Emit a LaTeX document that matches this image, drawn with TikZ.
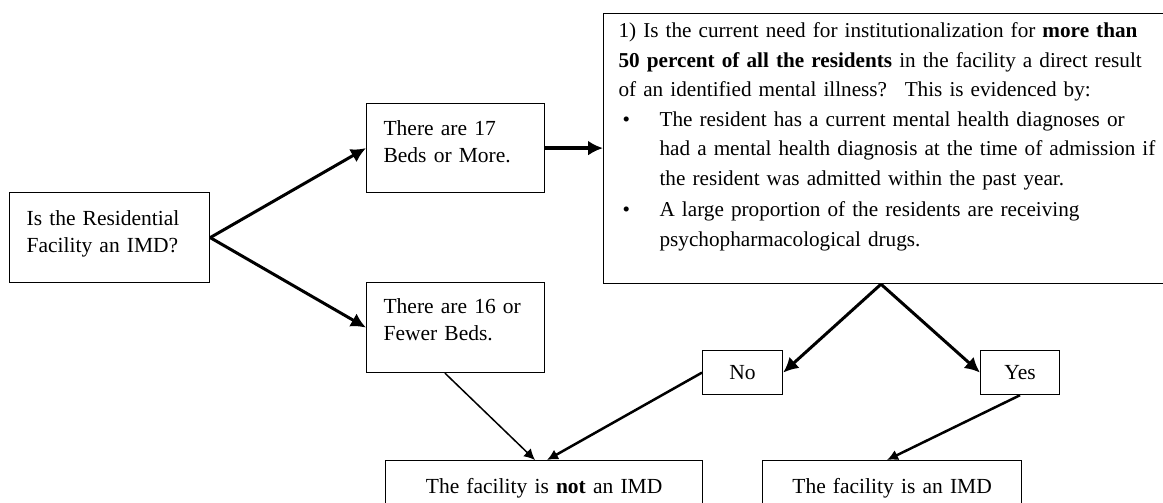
\documentclass[tikz,border=0pt]{standalone}
\usepackage{fontspec}
\setmainfont{Liberation Serif}
\usetikzlibrary{arrows, arrows.meta}

\begin{document}
\begin{tikzpicture}[x=1pt, y=-1pt,
    panel/.style={draw, line width=1.2, anchor=north west, inner xsep=17pt, inner ysep=0pt,
      align=left, font=\fontsize{21.5}{27}\selectfont},
    flow/.style={-{Latex[length=15pt, width=15pt]}},
    thinflow/.style={-{Latex[length=11pt, width=11pt]}}]
\useasboundingbox (0,0) rectangle (1163,503);
\clip (0,0) rectangle (1163,503);
           \node[panel, text width=166pt, text height=33pt, text depth=57pt](start)  at (9,192) {Is the Residential\\Facility an IMD?};
          \node[panel, text width=144pt, text height=32pt, text depth=57pt](more)  at (366,103) {There are 17\\Beds or More.};
          \node[panel, text width=144pt, text height=31pt, text depth=59pt](fewer)  at (366,282) {There are 16 or\\Fewer Beds.};
      \node[panel, inner xsep=15pt, text width=570pt, text height=24pt, text depth=246pt,
        font=\fontsize{21.2}{29.5}\selectfont](quest)  at (603,13) {1) Is the current need for institutionalization for \textbf{more than}\\
\textbf{50 percent of all the residents} in the facility a direct result\\
of an identified mental illness?~ This is evidenced by:\par
{\leftskip=41pt\noindent\llap{\makebox[41pt][l]{\hspace{4pt}\textbullet}}The resident has a current mental health diagnoses or\\
had a mental health diagnosis at the time of admission if\\
the resident was admitted within the past year.\par}\vspace{2pt}
{\leftskip=41pt\noindent\llap{\makebox[41pt][l]{\hspace{4pt}\textbullet}}A large proportion of the residents are receiving\\
psychopharmacological drugs.\par}};
      \node[panel, inner xsep=0pt, minimum width=80pt, minimum height=44pt, align=center](no)  at (702,350) {No};
      \node[panel, inner xsep=0pt, minimum width=79pt, minimum height=44pt, align=center](yes)  at (980,350) {Yes};
      \node[panel, text width=283pt, align=center, text height=33pt, text depth=30pt](notimd)  at (385,460) {The facility is \textbf{not} an IMD};
      \node[panel, text width=225pt, align=center, text height=33pt, text depth=30pt](isimd)  at (762,460) {The facility is an IMD};
      \coordinate (split) at ([xshift=278pt]quest.south west);
      \draw[flow, line width= 3] (start.east) -- (more.west);
      \draw[flow, line width= 3] (start.east) -- (fewer.west);
      \draw[flow, line width= 4.5] (more.east) -- (more.east -| quest.west);
      \draw[flow, line width= 3] (split) -- (no.east);
      \draw[flow, line width= 3] (split) -- (yes.west);
      \draw[thinflow, line width= 1.5] ([xshift=79pt]fewer.south west) -- ([xshift=150pt]notimd.north west);
      \draw[thinflow, line width= 2.5] (no.west) -- ([xshift=162pt]notimd.north west);
      \draw[thinflow, line width= 2.5] ([xshift=40pt]yes.south west) -- ([xshift=125pt]isimd.north west);
          \end{tikzpicture}
\end{document}
